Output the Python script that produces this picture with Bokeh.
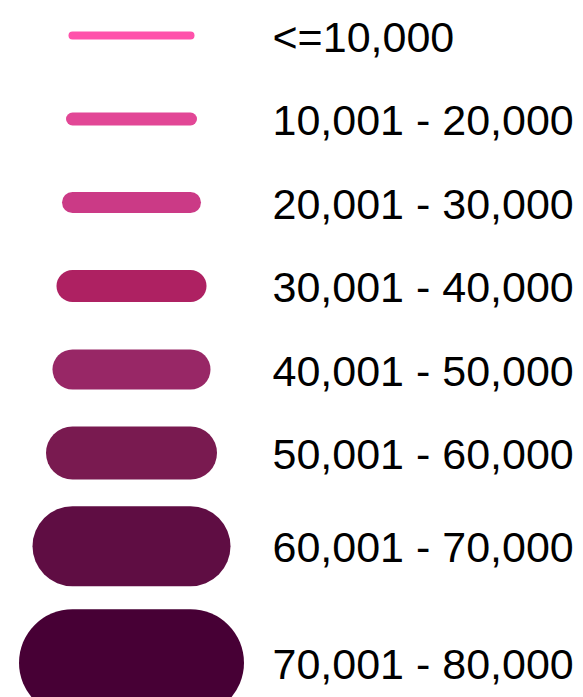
from bokeh.plotting import figure
from bokeh.models import ColumnDataSource, Range1d
from bokeh.core.properties import value
from bokeh.embed import file_html
from bokeh.resources import INLINE

# Legend categories (population bands) and their encoding
labels = ["<=10,000", "10,001 - 20,000", "20,001 - 30,000", "30,001 - 40,000",
          "40,001 - 50,000", "50,001 - 60,000", "60,001 - 70,000", "70,001 - 80,000"]
colors = ["#FF52AB", "#E24796", "#CB3A86", "#AE2162",
          "#982766", "#791A50", "#5F0D43", "#470035"]
thickness = [8, 13, 21, 32, 40, 53, 80, 107]

W, H = 580, 697
TEXT_H = 60.5
GAP = 23.0

# layout: rows stacked, each row as tall as max(text, stroke) plus a gap
ys = []
cur = 35.0
for i, t in enumerate(thickness):
    if i > 0:
        prev_h = max(TEXT_H, thickness[i - 1])
        h = max(TEXT_H, t)
        cur += (prev_h + h) / 2 + GAP
    ys.append(cur)

n = len(labels)
src = ColumnDataSource(dict(
    x0=[72] * n, x1=[190] * n, y=ys,
    w=thickness, c=colors, lab=labels, tx=[272] * n,
))

p = figure(width=W, height=H, output_backend="svg", toolbar_location=None,
           x_range=Range1d(0, W), y_range=Range1d(H, 0),
           min_border=0, outline_line_color=None, background_fill_color="white",
           border_fill_color="white")
p.xaxis.visible = False
p.yaxis.visible = False
p.grid.visible = False

p.segment(x0="x0", y0="y", x1="x1", y1="y", line_width="w", line_color="c",
          line_cap="round", source=src)
p.text(x="tx", y="y", text="lab", text_font=value("Liberation Sans"),
       text_font_size="43px", text_color="black", text_baseline="alphabetic",
       y_offset=1, source=src)

open("out.html", "w").write(file_html(p, INLINE))
